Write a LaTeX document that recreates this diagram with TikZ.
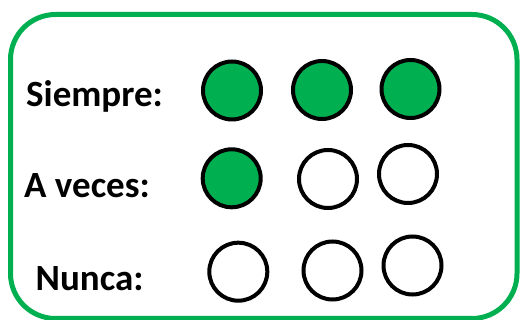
\documentclass[tikz,border=0pt]{standalone}
\usepackage{fontspec}
\setmainfont{Carlito}
\definecolor{ogreen}{HTML}{00B050}
\begin{document}
\begin{tikzpicture}[x=1pt,y=-1pt,
  lbl/.style={anchor=base west,inner sep=0pt,font=\fontsize{37}{44}\selectfont\bfseries},
  dot/.style={circle,draw=black,line width=4pt,minimum size=58pt,inner sep=0pt},
  on/.style={dot,fill=ogreen},
  off/.style={dot,fill=white}]
\useasboundingbox (0,0) rectangle (520,320);
\draw[draw=ogreen,line width=5pt,rounded corners=45pt] (10.5,14.5) rectangle (517,318.5);
\node[lbl] (l1) at (26,106.7) {Siempre:};
\node[lbl] (l2) at (24,197.7) {A veces:};
\node[lbl] (l3) at (35.5,290.7) {Nunca:};
\node[on] (a1) at (232,90.5) {};
\node[on] (a2) at (322,90) {};
\node[on] (a3) at (410.5,89) {};
\node[on] (b1) at (231.7,178.3) {};
\node[off] (b2) at (328,179) {};
\node[off] (b3) at (408,174) {};
\node[off] (c1) at (238.3,271.7) {};
\node[off] (c2) at (332.5,270.5) {};
\node[off] (c3) at (412.5,265.5) {};
\end{tikzpicture}
\end{document}
